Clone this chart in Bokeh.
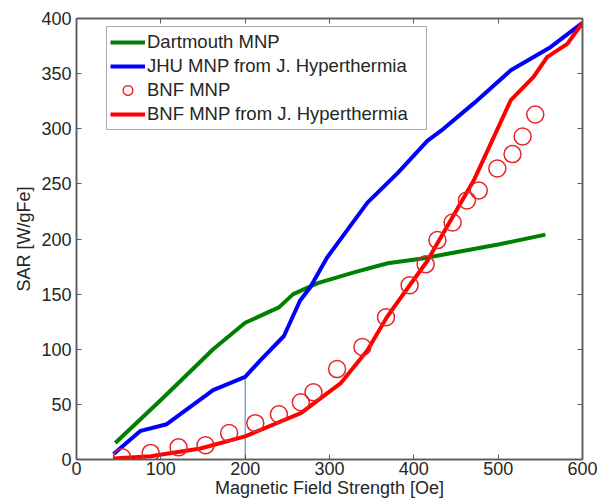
from bokeh.plotting import figure
from bokeh.models import (Range1d, LinearAxis, FixedTicker, Legend, LegendItem)
from bokeh.embed import file_html
from bokeh.resources import INLINE

# ---- data ----
dart_x = [46, 100, 123, 162, 200, 240, 257, 286, 330, 369, 408, 450, 500, 556]
dart_y = [15, 54, 71, 100, 124, 138, 150, 160, 170, 178, 182, 188, 195, 204]

jhu_x = [44, 76, 107, 162, 200, 218, 246, 265, 277, 297, 321, 345, 381, 416, 432, 471, 515, 562, 600]
jhu_y = [5, 26, 32, 63, 75, 90, 112, 144, 156, 183, 208, 233, 260, 289, 298, 323, 353, 374, 396]

bnf_x = [54, 88, 121, 153, 181, 212, 240, 266, 281, 309, 339, 367, 395, 414, 428, 446, 463, 477, 499, 517, 529, 544]
bnf_y = [2, 6, 11, 13, 24, 33, 41, 52, 61, 82, 102, 129, 158, 177, 199, 215, 235, 244, 264, 277, 293, 313]

bnfj_x = [44, 88, 147, 200, 266, 313, 345, 368, 396, 416, 424, 471, 515, 542, 558, 582, 600]
bnfj_y = [1, 3, 10, 21, 42, 69, 99, 129, 159, 180, 191, 253, 326, 347, 365, 377, 396]

marker_x = [200]
marker_y0 = [0]
marker_y1 = [75]

x_ticks = [0, 100, 200, 300, 400, 500, 600]
y_ticks = [0, 50, 100, 150, 200, 250, 300, 350, 400]

series_names = ["Dartmouth MNP", "JHU MNP from J. Hyperthermia", "BNF MNP",
                "BNF MNP from J. Hyperthermia"]

FONT = "Liberation Sans"
AX_COL = "#5a5a5a"
TXT_COL = "#262626"
FS = "18px"

p = figure(width=602, height=502, output_backend="svg", toolbar_location=None,
           x_range=Range1d(0, 600), y_range=Range1d(0, 400),
           min_border_left=76, min_border_right=20, min_border_top=18,
           min_border_bottom=43, x_axis_label="Magnetic Field Strength [Oe]",
           y_axis_label="SAR [W/gFe]")
p.grid.visible = False
p.outline_line_color = AX_COL
p.outline_line_width = 1.5
p.background_fill_color = "white"
p.border_fill_color = "white"

for ax, ticks in ((p.xaxis[0], x_ticks), (p.yaxis[0], y_ticks)):
    ax.ticker = FixedTicker(ticks=ticks)
    ax.major_tick_in = 5
    ax.major_tick_out = 0
    ax.minor_tick_line_color = None
    ax.axis_line_color = AX_COL
    ax.axis_line_width = 1.5
    ax.major_tick_line_color = AX_COL
    ax.major_label_text_font = FONT
    ax.major_label_text_font_size = FS
    ax.major_label_text_color = TXT_COL
    ax.axis_label_text_font = FONT
    ax.axis_label_text_font_size = FS
    ax.axis_label_text_font_style = "normal"
    ax.axis_label_text_color = TXT_COL

p.xaxis[0].major_label_standoff = 2
p.xaxis[0].axis_label_standoff = 0
p.yaxis[0].major_label_standoff = 5
p.yaxis[0].axis_label_standoff = 4

# box axes (top / right) with inward ticks and no visible labels
for loc, ticks in (("above", x_ticks), ("right", y_ticks)):
    ax = LinearAxis(ticker=FixedTicker(ticks=ticks), major_tick_in=5, major_tick_out=0,
                    minor_tick_line_color=None, axis_line_color=AX_COL, axis_line_width=1.5,
                    major_tick_line_color=AX_COL, major_label_text_font_size="1px",
                    major_label_text_color=None, major_label_standoff=0)
    p.add_layout(ax, loc)

# thin vertical marker line
p.segment(x0=marker_x, y0=marker_y0, x1=marker_x, y1=marker_y1,
          line_color="#4a78c8", line_width=1)

r_dart = p.line(dart_x, dart_y, line_color="#008000", line_width=4)
r_jhu = p.line(jhu_x, jhu_y, line_color="#0000ff", line_width=4)
r_bnfj = p.line(bnfj_x, bnfj_y, line_color="#ff0000", line_width=4)
r_bnf = p.scatter(bnf_x, bnf_y, marker="circle", size=17, fill_color=None,
                  line_color="#e8232a", line_width=1.5)

legend = Legend(items=[
    LegendItem(label=series_names[0], renderers=[r_dart]),
    LegendItem(label=series_names[1], renderers=[r_jhu]),
    LegendItem(label=series_names[2], renderers=[r_bnf]),
    LegendItem(label=series_names[3], renderers=[r_bnfj]),
], location=(30, 329))
legend.label_text_font = FONT
legend.label_text_font_size = "18.5px"
legend.label_text_color = TXT_COL
legend.glyph_width = 35
legend.glyph_height = 24
legend.label_height = 20
legend.label_width = 276
legend.spacing = 0
legend.padding = 3
legend.margin = 0
legend.label_standoff = 2
legend.border_line_color = AX_COL
legend.border_line_width = 1
legend.background_fill_color = "white"
legend.background_fill_alpha = 1.0
p.add_layout(legend, "center")

open("out.html", "w").write(file_html(p, INLINE))
